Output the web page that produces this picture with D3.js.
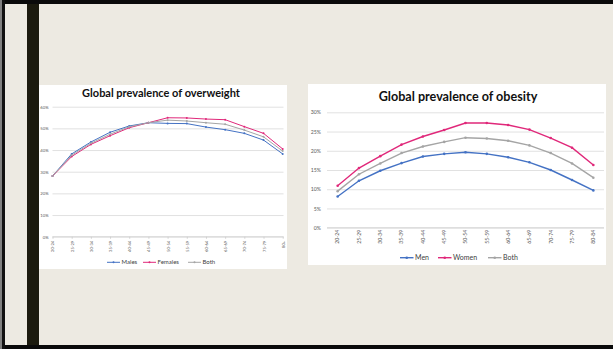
<!DOCTYPE html>
<html>
<head>
<meta charset="utf-8">
<script src="https://cdn.jsdelivr.net/npm/d3@7"></script>
<style>
  body { margin: 0; background: #edeae2; }
  svg { display: block; font-family: Lato, "Open Sans", sans-serif; }
</style>
</head>
<body>
<div id="chart"></div>
<script>
// overweight chart data (share of population)
const overweightAges = ['20-24', '25-29', '30-34', '35-39', '40-44', '45-49', '50-54', '55-59', '60-64', '65-69', '70-74', '75-79', '80+']
const overweightMales = [0.28, 0.382, 0.437, 0.482, 0.511, 0.526, 0.523, 0.522, 0.506, 0.494, 0.477, 0.446, 0.382]
const overweightFemales = [0.28, 0.37, 0.426, 0.466, 0.503, 0.526, 0.549, 0.548, 0.543, 0.540, 0.508, 0.477, 0.405]
const overweightBoth = [0.28, 0.376, 0.431, 0.473, 0.507, 0.526, 0.538, 0.534, 0.526, 0.519, 0.492, 0.461, 0.395]
const overweightTicks = [0, 0.1, 0.2, 0.3, 0.4, 0.5, 0.6]

// obesity chart data
const obesityAges = ['20-24', '25-29', '30-34', '35-39', '40-44', '45-49', '50-54', '55-59', '60-64', '65-69', '70-74', '75-79', '80-84']
const obesityMen = [0.081, 0.122, 0.148, 0.168, 0.185, 0.192, 0.196, 0.192, 0.183, 0.170, 0.150, 0.124, 0.097]
const obesityWomen = [0.109, 0.155, 0.186, 0.216, 0.237, 0.254, 0.272, 0.272, 0.267, 0.255, 0.233, 0.208, 0.163]
const obesityBoth = [0.095, 0.139, 0.167, 0.194, 0.211, 0.223, 0.234, 0.232, 0.226, 0.214, 0.194, 0.167, 0.130]
const obesityTicks = [0, 0.05, 0.1, 0.15, 0.2, 0.25, 0.3]

const blue = '#4472c4'
const pink = '#e0287a'
const grey = '#a5a5a5'

const width = 613
const height = 349

const svg = d3.select('#chart')
              .append('svg')
              .attr('width', width)
              .attr('height', height)

// slide frame
svg.append('rect').attr('width', width).attr('height', height).attr('fill', '#edeae2')
svg.append('rect').attr('x', 0).attr('y', 0).attr('width', width).attr('height', 4).attr('fill', '#0a0a0a')
svg.append('rect').attr('x', 0).attr('y', height - 4).attr('width', width).attr('height', 4).attr('fill', '#0a0a0a')
svg.append('rect').attr('x', 0).attr('y', 0).attr('width', 2).attr('height', height).attr('fill', '#808080')
svg.append('rect').attr('x', 2).attr('y', 0).attr('width', 3).attr('height', height).attr('fill', '#111')
svg.append('rect').attr('x', 27).attr('y', 4).attr('width', 12).attr('height', height - 8).attr('fill', '#1b1a0e')

const drawChart = (opts) => {
    const g = svg.append('g')

    g.append('rect')
     .attr('x', opts.panel[0]).attr('y', opts.panel[1])
     .attr('width', opts.panel[2]).attr('height', opts.panel[3])
     .attr('fill', '#fff')

    g.append('text')
     .attr('x', opts.titleX).attr('y', opts.titleY)
     .attr('text-anchor', 'middle')
     .attr('font-weight', 'bold')
     .attr('font-size', opts.titleSize)
     .attr('fill', '#111')
     .text(opts.title)

    const x = opts.x
    const off = x.bandwidth ? x.bandwidth() / 2 : 0
    const y = d3.scaleLinear().domain([0, opts.ticks[opts.ticks.length - 1]]).range(opts.yRange)

    // gridlines + y labels
    g.append('g')
     .attr('transform', `translate(${opts.gridX[0]}, 0)`)
     .call(d3.axisLeft(y)
             .tickValues(opts.ticks)
             .tickSize(-(opts.gridX[1] - opts.gridX[0]))
             .tickPadding(opts.yPad)
             .tickFormat(d3.format('.0%')))
     .call(a => a.select('.domain').remove())
     .call(a => a.selectAll('line').attr('stroke', '#d9d9d9').attr('stroke-width', 0.8))
     .call(a => a.selectAll('text').attr('fill', '#595959').attr('font-size', opts.tickSize).attr('font-family', 'Lato, sans-serif'))

    // x labels, rotated
    const xa = g.append('g')
     .attr('transform', `translate(0, ${opts.yRange[0]})`)
     .call(d3.axisBottom(x).tickSize(opts.xTick).tickPadding(1.5))
    xa.select('.domain').attr('stroke', '#d0d0d0').attr('stroke-width', 0.8)
      .attr('d', `M${opts.gridX[0]},0H${opts.gridX[1]}`)
    xa.selectAll('line').attr('stroke', '#d0d0d0')
    xa.selectAll('text')
      .attr('transform', 'rotate(-90)')
      .attr('text-anchor', 'end')
      .attr('x', -(opts.xTick + 2))
      .attr('y', 0)
      .attr('dy', '0.35em')
      .attr('fill', '#595959')
      .attr('font-size', opts.tickSize)
      .attr('font-family', 'Lato, sans-serif')

    const line = d3.line()
                   .x((_, i) => x(opts.cats[i]) + off)
                   .y(d => y(d))

    opts.series.forEach(s => {
        g.append('path')
         .datum(s.values)
         .attr('fill', 'none')
         .attr('stroke', s.color)
         .attr('stroke-width', opts.lineW)
         .attr('d', line)
        g.selectAll(null)
         .data(s.values)
         .enter()
         .append('circle')
         .attr('cx', (_, i) => x(opts.cats[i]) + off)
         .attr('cy', d => y(d))
         .attr('r', opts.markR)
         .attr('fill', s.color)
    })

    // legend
    const lg = g.append('g')
    opts.series.forEach((s, i) => {
        const lx = opts.legendX[i]
        lg.append('line')
          .attr('x1', lx).attr('x2', lx + opts.legendLine)
          .attr('y1', opts.legendY).attr('y2', opts.legendY)
          .attr('stroke', s.color).attr('stroke-width', opts.lineW)
        lg.append('circle')
          .attr('cx', lx + opts.legendLine / 2).attr('cy', opts.legendY)
          .attr('r', opts.markR).attr('fill', s.color)
        lg.append('text')
          .attr('x', lx + opts.legendLine + 1.5)
          .attr('y', opts.legendY)
          .attr('dy', '0.35em')
          .attr('font-size', opts.legendSize)
          .attr('fill', '#404040')
          .text(s.name)
    })
}

drawChart({
    panel: [39, 85, 248, 184],
    title: 'Global prevalence of overweight',
    titleX: 161, titleY: 96.5, titleSize: 11,
    cats: overweightAges,
    x: d3.scalePoint().domain(overweightAges).range([52.5, 282.7]),
    gridX: [52.5, 283.5],
    ticks: overweightTicks,
    yRange: [236.7, 106.7],
    yPad: 4, tickSize: 4.2, xTick: 2,
    lineW: 1, markR: 1,
    series: [
        { name: 'Males', values: overweightMales, color: blue },
        { name: 'Females', values: overweightFemales, color: pink },
        { name: 'Both', values: overweightBoth, color: grey }
    ],
    legendX: [107, 143, 188], legendLine: 13, legendY: 262.3, legendSize: 6
})

drawChart({
    panel: [308, 84, 298, 181],
    title: 'Global prevalence of obesity',
    titleX: 458, titleY: 100.5, titleSize: 12.6,
    cats: obesityAges,
    x: d3.scaleBand().domain(obesityAges).range([327, 604]).align(0.5).paddingInner(0).paddingOuter(0),
    gridX: [327, 604],
    ticks: obesityTicks,
    yRange: [227.7, 112.3],
    yPad: 6, tickSize: 5.2, xTick: 0,
    lineW: 1.4, markR: 1.3,
    series: [
        { name: 'Men', values: obesityMen, color: blue },
        { name: 'Women', values: obesityWomen, color: pink },
        { name: 'Both', values: obesityBoth, color: grey }
    ],
    legendX: [400, 438, 488], legendLine: 13.5, legendY: 257.7, legendSize: 7
})
</script>
</body>
</html>
